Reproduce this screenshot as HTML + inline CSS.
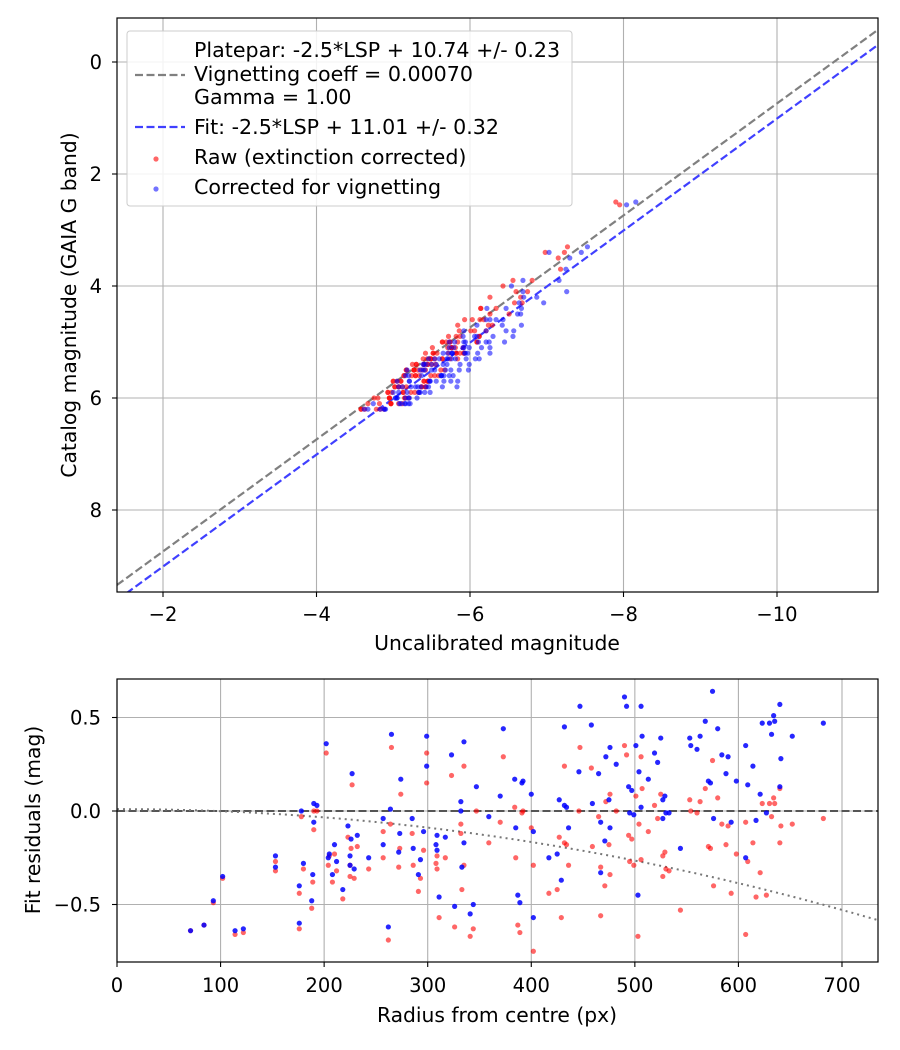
<!DOCTYPE html>
<html><head><meta charset="utf-8"><style>
body{margin:0;background:#fff;}
svg{display:block;font-family:"DejaVu Sans","Liberation Sans",sans-serif;}
</style></head><body>
<svg id="fig" width="900" height="1050" viewBox="0 0 900 1050" xmlns="http://www.w3.org/2000/svg">
<defs>
<clipPath id="c1"><rect x="117" y="18" width="761" height="574"/></clipPath>
<clipPath id="c2"><rect x="117" y="679" width="761" height="283"/></clipPath>
</defs>
<g id="top"></g>
<g id="bot"></g>
</svg>
<script>
const radius=[71,84,93,102,114,122,153,153,176,176,178,180,188,189,190,190,193,202,205,204,210,208,212,218,223,226,225,225,227,229,232,243,257,257,262,265,264,274,273,272,285,286,291,293,296,299,299,308,309,309,311,317,323,326,332,332,333,335,335,341,344,347,359,373,370,384,391,392,385,387,389,400,402,402,417,425,427,429,432,432,434,436,446,447,458,459,465,467,467,471,472,475,476,476,482,490,492,494,497,495,499,501,503,504,506,506,507,513,519,522,525,527,529,527,530,533,544,553,554,560,563,568,571,573,575,576,580,584,588,590,593,598,607,607,609,614,617,621,623,627,630,632,634,635,640,640,641,652,682];
const resRaw=[-0.64,-0.61,-0.49,-0.36,-0.66,-0.65,-0.27,-0.32,-0.63,-0.44,-0.03,-0.31,-0.52,-0.38,-0.10,0.0,0.0,0.31,-0.24,-0.29,-0.23,-0.38,-0.32,-0.47,-0.14,-0.20,-0.29,-0.35,0.14,-0.36,-0.19,-0.31,-0.11,-0.25,-0.69,0.34,-0.07,0.09,-0.20,-0.30,-0.12,-0.29,-0.43,-0.36,-0.21,0.31,0.15,-0.28,-0.24,-0.31,-0.57,-0.25,0.19,-0.62,-0.07,-0.12,-0.42,0.24,-0.29,-0.67,-0.63,0.0,-0.17,0.29,-0.06,0.02,-0.01,0.0,-0.25,-0.61,-0.65,-0.09,-0.29,-0.75,-0.44,-0.42,-0.14,-0.57,0.24,-0.17,-0.18,-0.29,0.0,0.34,0.23,-0.19,-0.03,-0.56,-0.30,-0.40,0.05,-0.18,0.09,-0.34,0.0,0.35,0.30,-0.13,-0.15,-0.27,-0.29,0.08,-0.67,-0.07,0.29,-0.26,0.12,-0.11,0.03,-0.04,0.09,-0.24,-0.22,-0.35,-0.31,-0.32,-0.53,0.06,0.0,-0.01,0.05,0.12,-0.19,-0.20,0.27,-0.40,0.07,-0.07,-0.18,-0.08,-0.44,-0.23,-0.06,-0.66,-0.27,-0.17,-0.46,-0.33,0.04,-0.45,0.04,-0.03,0.07,0.04,-0.17,0.12,-0.08,-0.07,-0.04];
const resCorr=[-0.64,-0.61,-0.48,-0.35,-0.64,-0.63,-0.24,-0.30,-0.60,-0.40,0.0,-0.28,-0.48,-0.34,-0.06,0.04,0.03,0.36,-0.23,-0.25,-0.18,-0.34,-0.27,-0.42,-0.08,-0.15,-0.24,-0.29,0.20,-0.31,-0.13,-0.25,-0.04,-0.18,-0.62,0.41,0.01,0.17,-0.12,-0.22,-0.04,-0.20,-0.34,-0.26,-0.11,0.40,0.24,-0.18,-0.13,-0.21,-0.46,-0.14,0.30,-0.51,0.05,0.0,-0.30,0.37,-0.17,-0.55,-0.50,0.13,-0.03,0.44,0.08,0.17,0.15,0.16,-0.09,-0.45,-0.49,0.09,-0.11,-0.57,-0.25,-0.23,0.06,-0.37,0.45,0.03,0.02,-0.09,0.21,0.56,0.46,0.04,0.20,-0.33,-0.06,-0.16,0.29,0.06,0.34,-0.09,0.25,0.61,0.56,0.13,0.11,-0.01,-0.02,0.35,-0.45,0.21,0.56,0.02,0.40,0.17,0.31,0.26,0.39,0.06,0.08,-0.04,-0.01,-0.01,-0.20,0.39,0.35,0.33,0.40,0.48,0.16,0.15,0.64,-0.04,0.44,0.30,0.20,0.29,-0.06,0.16,0.35,-0.25,0.14,0.24,-0.05,0.09,0.47,-0.01,0.47,0.41,0.51,0.48,0.57,0.13,0.28,0.40,0.47];
const catMag=[5.8,6.0,5.5,6.2,5.3,5.9,5.1,5.6,6.1,4.9,
5.4,5.7,6.2,5.2,5.0,5.8,4.6,3.4,6.0,5.5,
5.3,6.1,5.7,5.9,4.8,5.2,6.2,5.6,4.3,5.4,
5.0,5.8,6.1,5.3,5.9,3.7,5.5,4.4,5.7,6.0,
5.2,5.6,6.2,5.1,5.8,2.55,4.1,5.4,5.9,6.0,
5.3,5.7,4.0,6.1,5.5,5.0,5.8,3.9,5.2,6.2,
5.6,4.7,5.4,3.5,5.9,4.5,5.1,5.7,6.0,5.3,
5.8,4.9,5.5,6.1,5.2,5.6,4.8,6.2,4.2,5.4,
5.0,5.9,5.7,3.4,4.6,5.3,5.1,6.0,5.6,5.8,
4.9,5.5,4.7,6.1,5.2,2.5,3.3,5.4,5.7,6.0,
5.3,5.8,5.1,5.9,5.5,4.3,5.6,5.0,5.2,4.6,
5.4,5.7,6.0,5.3,5.8,5.5,4.4,4.4,5.1,5.6,
5.9,4.8,5.2,3.9,5.7,5.0,5.4,4.9,5.3,5.6,
6.1,5.2,4.6,4.8,5.5,5.8,5.0,5.3,4.7,5.1,
5.5,4.9,4.2,5.4,5.7,5.2,4.5,5.0,4.1];
const rawUncal=[-5.07,-5.2,-5.17,-4.88,-5.44,-5.33,-5.76,-5.14,-5.07,-5.87,
-5.40,-5.45,-4.58,-5.72,-5.69,-5.42,-6.18,-6.98,-5.15,-5.37,
-5.49,-5.12,-5.00,-5.13,-5.86,-5.92,-4.83,-5.14,-6.58,-5.45,
-5.74,-5.37,-4.67,-5.64,-4.93,-7.18,-5.42,-6.14,-5.40,-4.95,
-5.57,-5.54,-4.58,-5.81,-5.02,-7.95,-6.60,-5.30,-5.23,-4.95,
-5.49,-5.45,-6.43,-4.97,-5.27,-6.09,-5.17,-6.56,-5.82,-4.78,
-5.24,-6.29,-5.25,-7.15,-4.93,-6.51,-5.76,-5.05,-5.15,-5.54,
-5.07,-6.12,-5.17,-4.97,-5.52,-5.59,-6.01,-4.63,-6.66,-5.45,
-5.74,-5.28,-5.00,-7.23,-6.03,-5.84,-5.76,-4.80,-5.49,-5.12,
-5.82,-5.62,-5.84,-4.97,-5.52,-7.90,-7.27,-5.30,-5.40,-4.95,
-5.49,-5.37,-5.51,-5.13,-5.27,-6.68,-5.34,-5.64,-5.82,-6.13,
-5.40,-5.45,-4.75,-5.64,-5.02,-5.67,-6.34,-6.14,-5.91,-5.29,
-4.98,-6.21,-5.42,-6.81,-5.10,-6.09,-5.50,-5.72,-5.74,-5.29,
-4.82,-5.87,-5.93,-6.06,-5.27,-5.42,-5.84,-5.39,-6.24,-5.71,
-5.32,-6.12,-6.26,-5.55,-5.10,-5.92,-6.26,-5.64,-6.75];
const zpPlatepar=10.74, zpFit=11.01;
const topXTicks=[-2,-4,-6,-8,-10];
const topYTicks=[0,2,4,6,8];
const botXTicks=[0,100,200,300,400,500,600,700];
const botYTicks=[0.5,0.0,-0.5];
const vigCoeff=1.1e-6;

const NS="http://www.w3.org/2000/svg";
function mk(parent,tag,attrs,txt){const e=document.createElementNS(NS,tag);for(const k in attrs)e.setAttribute(k,attrs[k]);if(txt!==undefined)e.textContent=txt;parent.appendChild(e);return e;}
const fmt=v=>(v<0?"\u2212":"")+Math.abs(v).toString();
const FS=19.5, LFS=20.6, TFS=20.3;

// top axes
const T=document.getElementById('top');
const tx=v=>163+(-2-v)*76.75;
const ty=v=>62+v*56;
const txMin=-1.40, txMax=-11.32;
topXTicks.forEach(v=>{
 const g=mk(T,'line',{x1:tx(v),x2:tx(v),y1:18,y2:592,stroke:'#b0b0b0','stroke-width':1.1});
 
 mk(T,'line',{x1:tx(v),x2:tx(v),y1:592,y2:597,stroke:'#000','stroke-width':1.1});
 const t=mk(T,'text',{x:tx(v),y:621,'font-size':FS,'text-anchor':'middle'},fmt(v));
 
});
topYTicks.forEach(v=>{
 const g=mk(T,'line',{x1:117,x2:878,y1:ty(v),y2:ty(v),stroke:'#b0b0b0','stroke-width':1.1});
 
 mk(T,'line',{x1:112,x2:117,y1:ty(v),y2:ty(v),stroke:'#000','stroke-width':1.1});
 const t=mk(T,'text',{x:102,y:ty(v)+7,'font-size':FS,'text-anchor':'end'},fmt(v));
 
});
const cg=mk(T,'g',{'clip-path':'url(#c1)'});
const l1=mk(cg,'line',{x1:tx(txMin),y1:ty(txMin+zpPlatepar),x2:tx(txMax),y2:ty(txMax+zpPlatepar),stroke:'#808080','stroke-width':2.2,'stroke-dasharray':'8,3.5'});

const l2=mk(cg,'line',{x1:tx(txMin),y1:ty(txMin+zpFit),x2:tx(txMax),y2:ty(txMax+zpFit),stroke:'#4040ff','stroke-width':2.2,'stroke-dasharray':'8,3.5'});

catMag.forEach((c,i)=>{
 const p=mk(cg,'circle',{cx:tx(rawUncal[i]),cy:ty(c),r:2.6,fill:'#ff0000','fill-opacity':0.6});
 
});
catMag.forEach((c,i)=>{
 const p=mk(cg,'circle',{cx:tx(rawUncal[i]-(resCorr[i]-resRaw[i])),cy:ty(c),r:2.6,fill:'#0000ff','fill-opacity':0.55});
 
});
mk(T,'rect',{x:117,y:18,width:761,height:574,fill:'none',stroke:'#000','stroke-width':1.2});
let t=mk(T,'text',{x:497,y:650,'font-size':TFS,'text-anchor':'middle'},'Uncalibrated magnitude');

t=mk(T,'text',{x:0,y:0,'font-size':TFS,'text-anchor':'middle',transform:'translate(76,305) rotate(-90)'},'Catalog magnitude (GAIA G band)');

// legend
const L=mk(T,'g',{});

mk(L,'rect',{x:127,y:31,width:445,height:175,rx:3,fill:'#fff','fill-opacity':0.85,stroke:'#ccc','stroke-width':1});
mk(L,'line',{x1:135,x2:185,y1:75,y2:75,stroke:'#808080','stroke-width':2.2,'stroke-dasharray':'8,3.5'});
[['Platepar: -2.5*LSP + 10.74 +/- 0.23',57],['Vignetting coeff = 0.00070',81],['Gamma = 1.00',104]].forEach(a=>{
 const e=mk(L,'text',{x:194,y:a[1],'font-size':LFS},a[0]);});
mk(L,'line',{x1:135,x2:185,y1:127,y2:127,stroke:'#4040ff','stroke-width':2.2,'stroke-dasharray':'8,3.5'});
let e=mk(L,'text',{x:194,y:134,'font-size':LFS},'Fit: -2.5*LSP + 11.01 +/- 0.32');
mk(L,'circle',{cx:156,cy:159,r:2.6,fill:'#ff0000','fill-opacity':0.6});
e=mk(L,'text',{x:194,y:164,'font-size':LFS},'Raw (extinction corrected)');
mk(L,'circle',{cx:156,cy:189,r:2.6,fill:'#0000ff','fill-opacity':0.55});
e=mk(L,'text',{x:194,y:194,'font-size':LFS},'Corrected for vignetting');

// bottom axes
const B=document.getElementById('bot');
const bx=v=>117+v*1.0357;
const by=v=>811-v*187;
botXTicks.forEach(v=>{
 const g=mk(B,'line',{x1:bx(v),x2:bx(v),y1:679,y2:962,stroke:'#b0b0b0','stroke-width':1.1});
 
 mk(B,'line',{x1:bx(v),x2:bx(v),y1:962,y2:967,stroke:'#000','stroke-width':1.1});
 const t=mk(B,'text',{x:bx(v),y:992,'font-size':FS,'text-anchor':'middle'},String(v));
 
});
botYTicks.forEach(v=>{
 const g=mk(B,'line',{x1:117,x2:878,y1:by(v),y2:by(v),stroke:'#b0b0b0','stroke-width':1.1});
 
 mk(B,'line',{x1:112,x2:117,y1:by(v),y2:by(v),stroke:'#000','stroke-width':1.1});
 const t=mk(B,'text',{x:101,y:by(v)+7,'font-size':FS,'text-anchor':'end'},(v<0?"\u2212":"")+Math.abs(v).toFixed(1));
 
});
const cb=mk(B,'g',{'clip-path':'url(#c2)'});
const z=mk(cb,'line',{x1:117,x2:878,y1:by(0),y2:by(0),stroke:'#555','stroke-width':2,'stroke-dasharray':'8,3.5'});

let d='';for(let r=0;r<=740;r+=5){d+=(r?'L':'M')+bx(r).toFixed(1)+','+by(0.01-vigCoeff*r*r).toFixed(1);}
const vc=mk(cb,'path',{d:d,fill:'none',stroke:'#777','stroke-width':2,'stroke-dasharray':'2,4'});

radius.forEach((r,i)=>{
 const p=mk(cb,'circle',{cx:bx(r),cy:by(resRaw[i]),r:2.6,fill:'#ff0000','fill-opacity':0.6});
 
});
radius.forEach((r,i)=>{
 const p=mk(cb,'circle',{cx:bx(r),cy:by(resCorr[i]),r:2.6,fill:'#0000ff','fill-opacity':0.85});
 
});
mk(B,'rect',{x:117,y:679,width:761,height:283,fill:'none',stroke:'#000','stroke-width':1.2});
t=mk(B,'text',{x:497,y:1022,'font-size':TFS,'text-anchor':'middle'},'Radius from centre (px)');

t=mk(B,'text',{x:0,y:0,'font-size':TFS,'text-anchor':'middle',transform:'translate(40,820) rotate(-90)'},'Fit residuals (mag)');

</script>
</body></html>
